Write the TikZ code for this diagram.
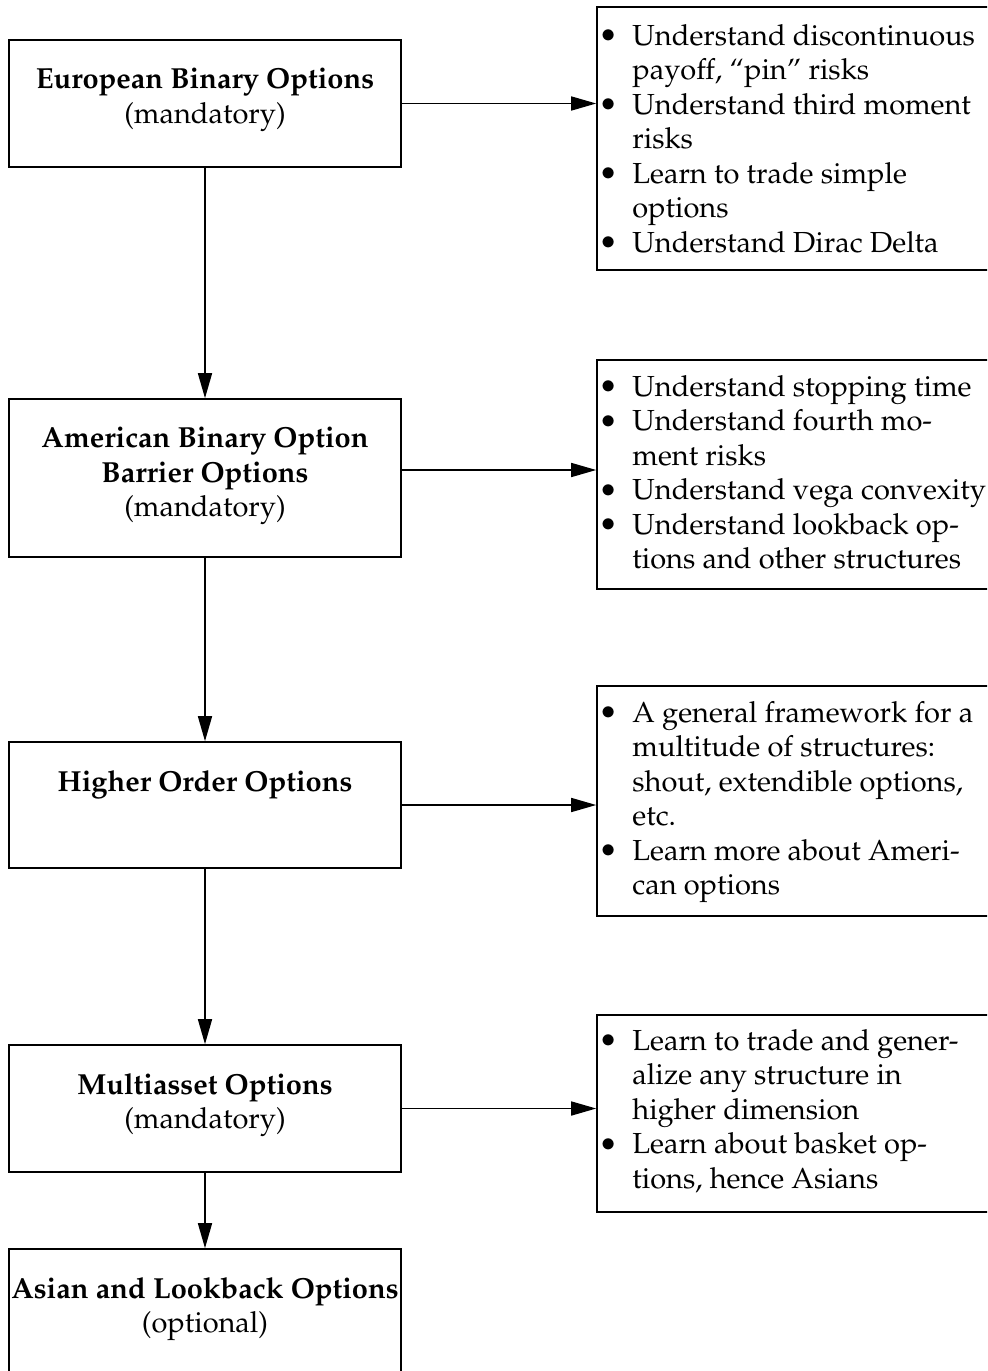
\documentclass[tikz,border=0pt]{standalone}
\usepackage[T1]{fontenc}
\usepackage{mathpazo}
\usetikzlibrary{arrows.meta}
\newcommand{\bl}{\makebox[15pt][l]{\hspace*{-2pt}\raisebox{-0.6pt}{\scalebox{1.12}{\textbullet}}}}
\newcommand{\ind}{\hspace*{15pt}}
\tikzset{
  box/.style={draw, line width=0.8pt, rectangle, inner sep=0pt},
  lbox/.style={box, minimum width=196pt},
  rbox/.style={box, minimum width=199pt},
  ltext/.style={anchor=north, align=center, inner sep=0pt, font=\fontsize{14.5}{17.25}\selectfont},
  rtext/.style={anchor=north west, align=left, inner sep=0pt, font=\fontsize{14.5}{17.25}\selectfont},
  arr/.style={-{Triangle[length=12.5pt,width=7pt]}, line width=0.8pt}
}
\begin{document}
\begin{tikzpicture}[x=0.5pt,y=-0.5pt]
\useasboundingbox (0,0) rectangle (987,1371);
\clip (0,0) rectangle (987,1371);
% left boxes
\node[lbox, minimum height=63.5pt] (b1) at (205,103.5) {};
\node[lbox, minimum height=79pt]   (b2) at (205,478) {};
\node[lbox, minimum height=63pt]   (b3) at (205,805) {};
\node[lbox, minimum height=63.5pt] (b4) at (205,1108.5) {};
\node[lbox, minimum height=70.5pt] (b5) at (205,1319.5) {};
% right boxes
\node[rbox, minimum height=131.5pt] (r1) at (796,138.5) {};
\node[rbox, minimum height=114.5pt] (r2) at (796,474.5) {};
\node[rbox, minimum height=115pt]   (r3) at (796,801) {};
\node[rbox, minimum height=98.5pt]  (r4) at (796,1113.5) {};
% left texts
\node[ltext] (t1) at (205,68) {\textbf{European Binary Options}\\(mandatory)};
\node[ltext] (t2) at (205,427) {\textbf{American Binary Option}\\\textbf{Barrier Options}\\(mandatory)};
\node[ltext] (t3) at (205,770) {\textbf{Higher Order Options}};
\node[ltext] (t4) at (205,1073) {\textbf{Multiasset Options}\\(mandatory)};
\node[ltext] (t5) at (205,1277) {\textbf{Asian and Lookback Options}\\(optional)};
% right texts
\node[rtext] (s1) at (602,24) {\bl Understand discontinuous\\\ind payoff, ``pin'' risks\\\bl Understand third moment\\\ind risks\\\bl Learn to trade simple\\\ind options\\\bl Understand Dirac Delta};
\node[rtext] (s2) at (602,375) {\bl Understand stopping time\\\bl Understand fourth mo-\\\ind ment risks\\\bl Understand vega convexity\\\bl Understand lookback op-\\\ind tions and other structures};
\node[rtext] (s3) at (602,701) {\bl A general framework for a\\\ind multitude of structures:\\\ind shout, extendible options,\\\ind etc.\\\bl Learn more about Ameri-\\\ind can options};
\node[rtext] (s4) at (602,1029) {\bl Learn to trade and gener-\\\ind alize any structure in\\\ind higher dimension\\\bl Learn about basket op-\\\ind tions, hence Asians};
% connectors
\draw[arr] (b1.east) -- (b1.east -| r1.west);
\draw[arr] ([yshift=4pt]b2.east) -- ([yshift=4pt]b2.east -| r2.west);
\draw[arr] (b3.east) -- (b3.east -| r3.west);
\draw[arr] (b4.east) -- (b4.east -| r4.west);
\draw[arr] (b1.south) -- (b2.north);
\draw[arr] (b2.south) -- (b3.north);
\draw[arr] (b3.south) -- (b4.north);
\draw[arr] (b4.south) -- (b5.north);
\end{tikzpicture}
\end{document}
